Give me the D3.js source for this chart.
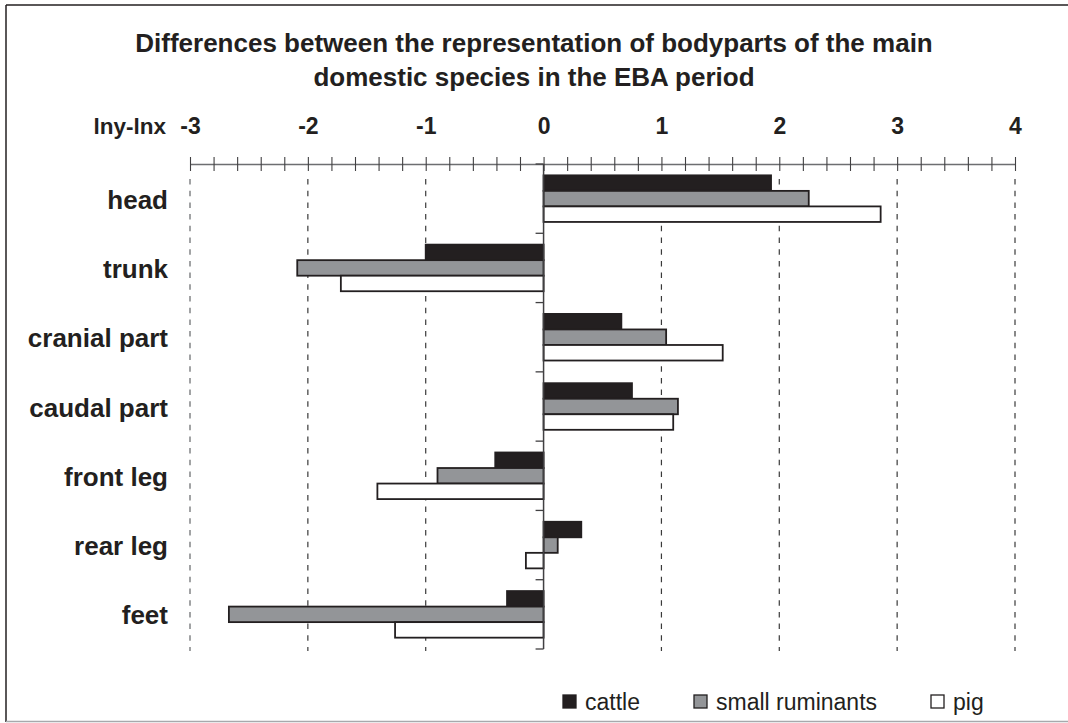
<!DOCTYPE html>
<html>
<head>
<meta charset="utf-8">
<script src="https://cdn.jsdelivr.net/npm/d3@7"></script>
<style>
  html, body { margin: 0; padding: 0; background: #fff; }
  svg { display: block; font-family: "Liberation Sans", Arial, sans-serif; }
</style>
</head>
<body>
<svg id="chart" width="1068" height="723"></svg>
<script>
// Body part categories (top to bottom)
const categories = ["head", "trunk", "cranial part", "caudal part", "front leg", "rear leg", "feet"];

// Series: lny - lnx per body part
const seriesNames = ["cattle", "small ruminants", "pig"];
const cattle = [1.93, -1.00, 0.66, 0.75, -0.41, 0.32, -0.31];
const smallRuminants = [2.25, -2.09, 1.04, 1.14, -0.90, 0.12, -2.67];
const pig = [2.86, -1.72, 1.52, 1.10, -1.41, -0.15, -1.26];

// Axis ticks
const majorTicks = [-3, -2, -1, 0, 1, 2, 3, 4];

const titleLines = [
  "Differences between the representation of bodyparts of the main",
  "domestic species in the EBA period"
];

const seriesValues = [cattle, smallRuminants, pig];
const fills = { "cattle": "#231f20", "small ruminants": "#939598", "pig": "#ffffff" };
const ink = "#231f20";

const svg = d3.select("#chart");

// Outer frame
svg.append("line").attr("x1", 6).attr("x2", 1068).attr("y1", 5).attr("y2", 5)
  .attr("stroke", ink).attr("stroke-width", 1.5);
svg.append("line").attr("x1", 6).attr("x2", 6).attr("y1", 5).attr("y2", 722)
  .attr("stroke", ink).attr("stroke-width", 1.5);
svg.append("line").attr("x1", 6).attr("x2", 1068).attr("y1", 721.5).attr("y2", 721.5)
  .attr("stroke", "#a7a9ac").attr("stroke-width", 1.5);

// Title
svg.append("text")
  .attr("x", 534).attr("y", 52)
  .attr("text-anchor", "middle")
  .attr("font-size", 26).attr("font-weight", "bold").attr("fill", ink)
  .selectAll("tspan").data(titleLines).join("tspan")
  .attr("x", 534).attr("dy", (d, i) => i === 0 ? 0 : 34)
  .text(d => d);

// Scales
const x = d3.scaleLinear().domain([-3, 4]).range([190, 1015]);
const y0 = d3.scaleBand().domain(categories).range([164, 649]).padding(0);
const y1 = d3.scaleBand().domain(seriesNames).range([0, y0.bandwidth()]).paddingInner(0).paddingOuter(0.73);

// Dashed vertical gridlines at whole units (except zero)
svg.append("g").selectAll("line")
  .data(majorTicks.filter(d => d !== 0)).join("line")
  .attr("x1", d => x(d)).attr("x2", d => x(d))
  .attr("y1", 179).attr("y2", 651)
  .attr("stroke", d => d === -3 ? "#8a8c8e" : "#3a3a3a")
  .attr("stroke-width", d => d === -3 ? 1.6 : 1.2)
  .attr("stroke-dasharray", "5.5,6.2");

// Top axis: line with crossing ticks every 0.2
const minorTicks = d3.range(0, 36).map(i => -3 + i * 0.2);
const axisG = svg.append("g").attr("transform", "translate(0,164)")
  .call(d3.axisTop(x).tickValues(minorTicks).tickFormat("").tickSizeOuter(0));
axisG.select(".domain").attr("stroke", "#6d6e71").attr("stroke-width", 1.5);
axisG.selectAll(".tick line").attr("y1", -7).attr("y2", 7)
  .attr("stroke", "#414042").attr("stroke-width", 1.1);

// Top axis labels
const labelAxis = svg.append("g").attr("transform", "translate(0,134)")
  .call(d3.axisTop(x).tickValues(majorTicks).tickFormat(d => String(d)).tickSize(0).tickPadding(0));
labelAxis.select(".domain").remove();
labelAxis.selectAll("text")
  .attr("font-family", "Liberation Sans, Arial, sans-serif")
  .attr("font-size", 23).attr("font-weight", "bold").attr("fill", ink)
  .attr("dy", 0);

svg.append("text").attr("x", 166).attr("y", 134)
  .attr("text-anchor", "end").attr("font-size", 22.5).attr("font-weight", "bold")
  .attr("fill", ink).text("lny-lnx");

// Bars
const rows = categories.map((c, i) => ({
  category: c,
  values: seriesNames.map((s, j) => ({ series: s, value: seriesValues[j][i] }))
}));

const groups = svg.append("g").selectAll("g").data(rows).join("g")
  .attr("transform", d => `translate(0,${y0(d.category)})`);

groups.selectAll("rect").data(d => d.values).join("rect")
  .attr("x", d => x(Math.min(0, d.value)))
  .attr("width", d => Math.abs(x(d.value) - x(0)))
  .attr("y", d => y1(d.series))
  .attr("height", y1.bandwidth())
  .attr("fill", d => fills[d.series])
  .attr("stroke", ink).attr("stroke-width", 1.8);

// Vertical axis at zero with category boundary ticks
const yAxisG = svg.append("g").attr("transform", `translate(${x(0)},0)`);
yAxisG.append("line").attr("y1", 164).attr("y2", 649)
  .attr("stroke", "#414042").attr("stroke-width", 1.5);
const boundaries = categories.map(c => y0(c)).concat([y0.range()[1]]);
yAxisG.selectAll("line.tk").data(boundaries).join("line").attr("class", "tk")
  .attr("x1", -8).attr("x2", 0).attr("y1", d => d).attr("y2", d => d)
  .attr("stroke", "#414042").attr("stroke-width", 1.3);

// Category labels
svg.append("g").selectAll("text").data(categories).join("text")
  .attr("x", 168).attr("y", d => y0(d) + y0.bandwidth() / 2 + 10)
  .attr("text-anchor", "end").attr("font-size", 26).attr("font-weight", "bold")
  .attr("fill", ink).text(d => d);

// Legend
const legendX = [563, 694, 931];
const legend = svg.append("g").selectAll("g").data(seriesNames).join("g")
  .attr("transform", (d, i) => `translate(${legendX[i]},695)`);
legend.append("rect").attr("width", 13).attr("height", 13)
  .attr("fill", d => fills[d]).attr("stroke", ink).attr("stroke-width", 1.3);
legend.append("text").attr("x", 22).attr("y", 15)
  .attr("font-size", 23).attr("fill", ink).text(d => d);
</script>
</body>
</html>
